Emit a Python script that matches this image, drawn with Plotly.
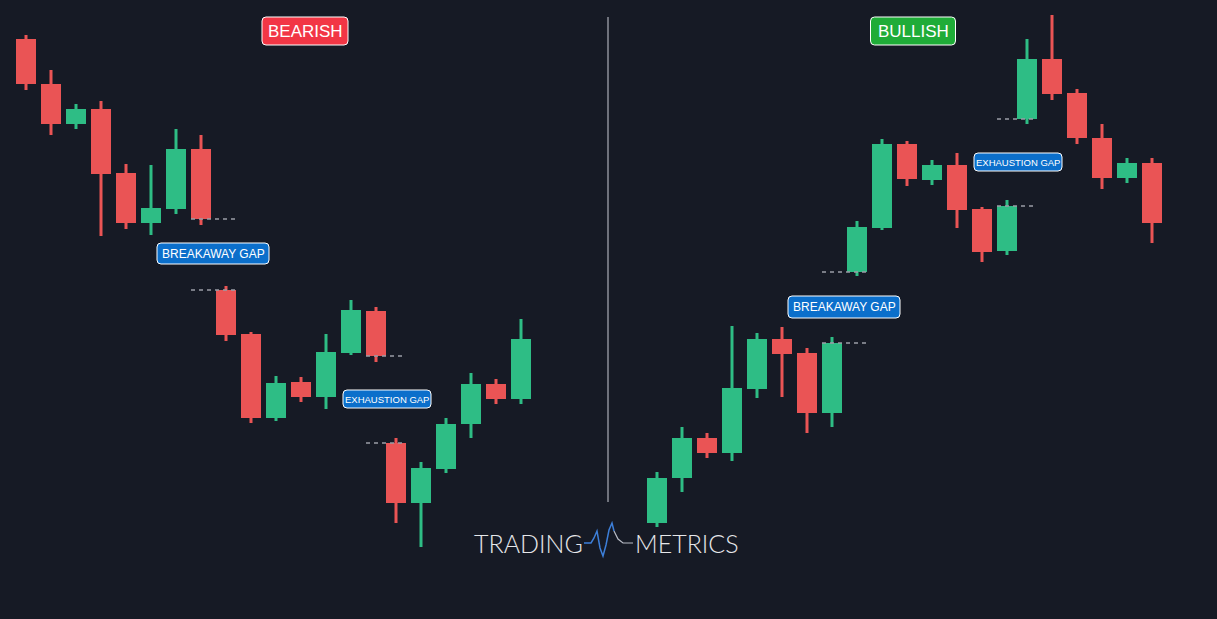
import plotly.graph_objects as go

# ---- data (price units; x = bar time position) ----
x_left = [26, 51, 76, 101, 126, 151, 176, 201, 226, 251, 276, 301, 326, 351, 376,
          396, 421, 446, 471, 496, 521]
open_left  = [580, 535, 495, 510, 446, 396, 410, 470, 329, 285, 201, 237, 222, 266, 308,
              176, 116, 150, 195, 235, 220]
high_left  = [584, 549, 515, 518, 455, 454, 490, 484, 333, 287, 243, 242, 285, 319, 312,
              181, 157, 201, 246, 240, 300]
low_left   = [529, 484, 490, 383, 390, 384, 405, 394, 278, 196, 198, 217, 210, 264, 257,
              96, 72, 146, 181, 215, 215]
close_left = [535, 495, 510, 445, 396, 411, 470, 400, 284, 201, 236, 222, 267, 309, 263,
              116, 151, 195, 235, 220, 280]

x_right = [657, 682, 707, 732, 757, 782, 807, 832, 857, 882, 907, 932, 957, 982, 1007,
           1027, 1052, 1077, 1102, 1127, 1152]
open_right  = [96, 141, 181, 166, 230, 280, 266, 206, 347, 391, 475, 439, 454, 410, 368,
               500, 560, 526, 481, 441, 456]
high_right  = [147, 192, 186, 293, 286, 292, 271, 282, 398, 480, 478, 459, 466, 412, 419,
               580, 604, 530, 495, 461, 461]
low_right   = [92, 127, 161, 158, 221, 222, 186, 192, 343, 389, 433, 434, 391, 357, 364,
               495, 519, 475, 430, 436, 376]
close_right = [141, 181, 166, 231, 280, 265, 206, 276, 392, 475, 440, 454, 409, 367, 413,
               560, 525, 481, 441, 456, 396]

# gaps: index of candle before the gap
gaps_left = [7, 14]
gaps_right = [7, 14]

GREEN = "#2ebd85"
RED = "#ea5455"
BG = "#161a25"
W, H = 1217, 619

xs = x_left + x_right
os_ = open_left + open_right
hs = high_left + high_right
ls = low_left + low_right
cs = close_left + close_right
cols = [GREEN if c >= o else RED for o, c in zip(os_, cs)]

fig = go.Figure()
fig.add_trace(go.Bar(x=xs, y=[h - l for h, l in zip(hs, ls)], base=ls, width=3,
                     marker=dict(color=cols, line=dict(width=0)), hoverinfo="skip"))
fig.add_trace(go.Bar(x=xs, y=[abs(c - o) for o, c in zip(os_, cs)],
                     base=[min(o, c) for o, c in zip(os_, cs)], width=20,
                     marker=dict(color=cols, line=dict(width=0)), hoverinfo="skip"))

# dashed gap lines
def gap_lines(xv, ov, cv, idx):
    x0 = xv[idx] - 10
    x1 = xv[idx + 1] + 10
    return [(x0, x1, cv[idx]), (x0, x1, ov[idx + 1])]

segs = []
for idx in gaps_left:
    segs += gap_lines(x_left, open_left, close_left, idx)
for idx in gaps_right:
    segs += gap_lines(x_right, open_right, close_right, idx)
for x0, x1, yv in segs:
    fig.add_trace(go.Scatter(x=[x0, x1], y=[yv, yv], mode="lines",
                             line=dict(color="#9a9da6", width=1.5, dash="4px,4px"),
                             hoverinfo="skip"))

def rrect(x0, x1, y0, y1, r=4):
    return (f"M{x0+r},{y1} L{x1-r},{y1} Q{x1},{y1} {x1},{y1-r} L{x1},{y0+r} "
            f"Q{x1},{y0} {x1-r},{y0} L{x0+r},{y0} Q{x0},{y0} {x0},{y0+r} "
            f"L{x0},{y1-r} Q{x0},{y1} {x0+r},{y1} Z")

shapes = []
annotations = []

def label(cx, cy, w, h, text, fill, size):
    shapes.append(dict(type="path", xref="x", yref="y",
                       path=rrect(cx - w / 2, cx + w / 2, cy - h / 2, cy + h / 2),
                       fillcolor=fill, line=dict(color="#ffffff", width=1)))
    annotations.append(dict(x=cx, y=cy, xref="x", yref="y", text=text, showarrow=False,
                            font=dict(family="Liberation Sans, Arial", size=size, color="#ffffff")))

label(305, H - 31, 86, 28, "BEARISH", "#f23645", 17)
label(913, H - 31, 85, 28, "BULLISH", "#1fac38", 17)
label(213, H - 253.5, 112, 21, "BREAKAWAY GAP", "#0b6fcb", 12)
label(844, H - 307, 112, 22, "BREAKAWAY GAP", "#0b6fcb", 12)
label(387, H - 399, 88, 18, "EXHAUSTION GAP", "#0b6fcb", 9.5)
label(1018, H - 162, 88, 18, "EXHAUSTION GAP", "#0b6fcb", 9.5)

# divider
shapes.append(dict(type="line", xref="x", yref="y", x0=608, x1=608, y0=H - 17, y1=H - 502,
                   line=dict(color="#8e919a", width=1.5)))

# logo
annotations.append(dict(x=585, y=H - 543, xref="x", yref="y", text="TRADING", showarrow=False,
                        xanchor="right", font=dict(family="Lato", size=25, color="#e6e7ea", weight=300)))
annotations.append(dict(x=633, y=H - 543, xref="x", yref="y", text="METRICS", showarrow=False,
                        xanchor="left", font=dict(family="Lato", size=25, color="#e6e7ea", weight=300)))
wave_blue = [(584, 543), (591, 543), (594, 538), (597, 531), (600, 548), (603, 556),
             (606, 545), (609, 530), (612, 523), (614, 531)]
wave_grey = [(614, 531), (618, 539), (623, 543), (633, 543)]
def pth(pts):
    return "M" + " L".join(f"{px},{H - py}" for px, py in pts)
shapes.append(dict(type="path", xref="x", yref="y", path=pth(wave_blue),
                   line=dict(color="#3d7fd9", width=1.5)))
shapes.append(dict(type="path", xref="x", yref="y", path=pth(wave_grey),
                   line=dict(color="#b8bcc6", width=1.2)))

fig.update_layout(
    width=W, height=H, margin=dict(l=0, r=0, t=0, b=0),
    paper_bgcolor=BG, plot_bgcolor=BG, showlegend=False, barmode="overlay",
    xaxis=dict(range=[0, W], visible=False, fixedrange=True),
    yaxis=dict(range=[0, H], visible=False, fixedrange=True),
    shapes=shapes, annotations=annotations,
)
fig.write_html("out.html", config={"displayModeBar": False},
               post_script="document.body.style.margin='0';document.body.style.overflow='hidden';"
                           "document.body.style.background='" + BG + "';")
